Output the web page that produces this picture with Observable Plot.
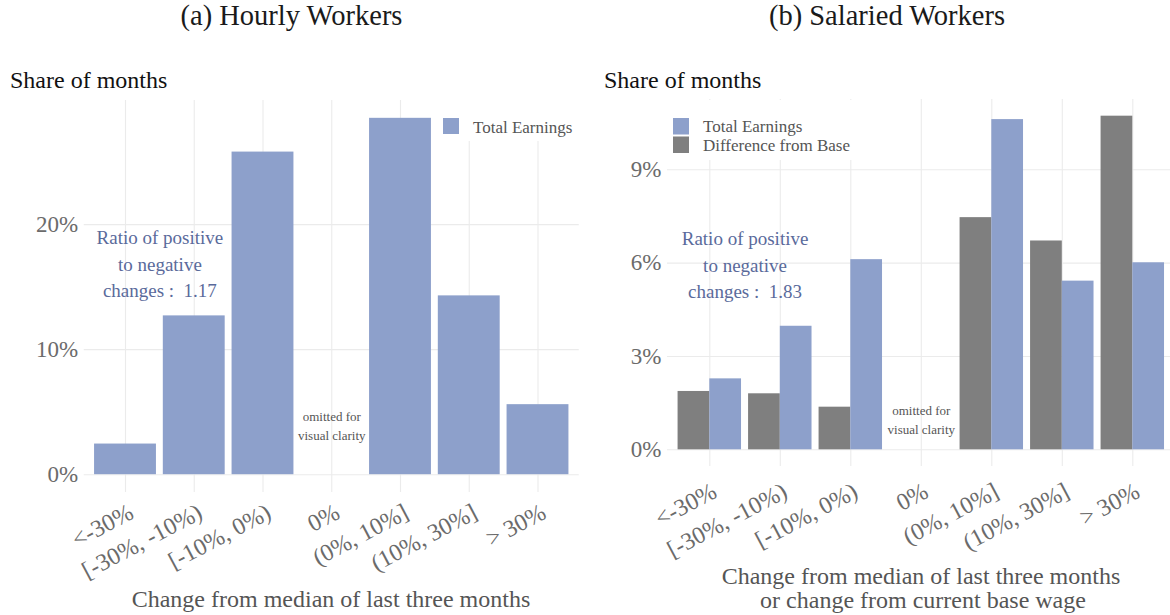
<!DOCTYPE html>
<html><head><meta charset="utf-8">
<script src="https://cdn.jsdelivr.net/npm/d3@7"></script>
<script src="https://cdn.jsdelivr.net/npm/@observablehq/plot@0.6"></script>
<style>
html,body{margin:0;padding:0;background:#fff;overflow:hidden}
#root{position:relative;width:1170px;height:615px;overflow:hidden;font-family:"Liberation Serif","DejaVu Serif",serif}
#root > svg{position:absolute;top:0}
</style></head><body><div id="root"></div>
<script>
// ---------- data ----------
const categories = ["<-30%", "[-30%, -10%)", "[-10%, 0%)", "0%", "(0%, 10%]", "(10%, 30%]", "> 30%"];
const hourlyTotal   = [0.0245, 0.127, 0.258, null, 0.285, 0.143, 0.056];
const salariedTotal = [0.0228, 0.0397, 0.0611, null, 0.1061, 0.0542, 0.0601];
const salariedBase  = [0.01875, 0.0180, 0.0137, null, 0.0746, 0.0671, 0.1072];
const hourlyTicks = [0, 0.1, 0.2];
const salariedTicks = [0, 0.03, 0.06, 0.09];
const seriesNames = ["Total Earnings", "Difference from Base"];
const ratioHourly = "1.17", ratioSalaried = "1.83";
const titles = ["(a) Hourly Workers", "(b) Salaried Workers"];
const yTitle = "Share of months";
const xTitleLeft = ["Change from median of last three months"];
const xTitleRight = ["Change from median of last three months", "or change from current base wage"];
const omittedNote = "omitted for\nvisual clarity";

// ---------- style ----------
const FONT = '"Liberation Serif","DejaVu Serif",serif';
const BLUE = "#8DA0CB", GRAY = "#7F7F7F", GRID = "#EBEBEB", TICK = "#6b6b6b";
const seriesColors = [BLUE, GRAY];

const rows = (vals) => categories.map((c, i) => ({cat: c, value: vals[i]})).filter(d => d.value != null);
const pct = d3.format(".0%");
const root = document.getElementById("root");

function panel({left, width, mTop, mBottom, mLeft, mRight, yDomain, ticks, bars, ratio, ratioY, omitY, labDx, labDy}) {
  const plotW = width - mLeft - mRight;
  const step = plotW / (categories.length - 0.1 + 0.3);
  const bw = step * 0.9;
  const marks = [
    Plot.gridX({stroke: GRID, strokeOpacity: 1, strokeWidth: 1.1}),
    Plot.gridY(ticks, {stroke: GRID, strokeOpacity: 1, strokeWidth: 1.1}),
    ...bars(bw),
    Plot.axisY(ticks, {tickSize: 0, tickPadding: 6, tickFormat: pct, fontSize: 23, fill: TICK, label: null}),
    Plot.text(categories, {x: d => d, text: d => d, frameAnchor: "bottom", dx: labDx, dy: labDy, rotate: -28,
      textAnchor: "end", lineAnchor: "middle", fontSize: 24, fill: TICK}),
    Plot.text([{cat: categories[1], y: ratioY, t: "Ratio of positive\nto negative\nchanges : \u00a0" + ratio}],
      {x: "cat", y: "y", text: "t", dx: -step / 2, fontSize: 19, lineHeight: 1.4, fill: "#5a6a9b", lineAnchor: "middle"}),
    Plot.text([{cat: categories[3], y: omitY, t: omittedNote}],
      {x: "cat", y: "y", text: "t", fontSize: 13, lineHeight: 1.45, fill: "#555", lineAnchor: "middle"})
  ];
  const svg = Plot.plot({
    width, height: 615,
    marginTop: mTop, marginBottom: mBottom, marginLeft: mLeft, marginRight: mRight,
    style: {fontFamily: FONT, background: "transparent", overflow: "visible"},
    x: {domain: categories, paddingInner: 0.1, paddingOuter: 0.15, round: false, axis: null},
    y: {domain: yDomain},
    marks
  });
  svg.style.left = left + "px";
  root.appendChild(svg);
}

// (a) Hourly
panel({
  left: 0, width: 585, mTop: 100, mBottom: 123, mLeft: 83.75, mRight: 6.25,
  yDomain: [-0.01425, 0.29925], ticks: hourlyTicks, ratio: ratioHourly, ratioY: 0.17, omitY: 0.04,
  labDx: 6, labDy: 18,
  bars: () => [Plot.barY(rows(hourlyTotal), {x: "cat", y: "value", fill: BLUE})]
});

// (b) Salaried
panel({
  left: 585, width: 590, mTop: 99, mBottom: 149, mLeft: 82, mRight: 0.4,
  yDomain: [-0.00536, 0.11256], ticks: salariedTicks, ratio: ratioSalaried, ratioY: 0.06, omitY: 0.0102,
  labDx: 5, labDy: 23,
  bars: (bw) => [
    Plot.barY(rows(salariedBase), {x: "cat", y: "value", fill: GRAY, insetRight: bw / 2}),
    Plot.barY(rows(salariedTotal), {x: "cat", y: "value", fill: BLUE, insetLeft: bw / 2})
  ]
});

// ---------- overlay: titles, axis titles, legends ----------
const ov = d3.select(root).append("svg").attr("width", 1170).attr("height", 615)
  .style("left", "0px").style("font-family", FONT);
const txt = (x, y, s, size, fill, anchor = "start") =>
  ov.append("text").attr("x", x).attr("y", y).attr("font-size", size).attr("fill", fill)
    .attr("text-anchor", anchor).text(s);

txt(291.5, 25, titles[0], 28.5, "#1a1a1a", "middle");
txt(887, 25, titles[1], 28.5, "#1a1a1a", "middle");
txt(10, 88, yTitle, 24, "#111");
txt(604, 88, yTitle, 24, "#111");
txt(331, 607, xTitleLeft[0], 24, "#555", "middle");
txt(921, 584, xTitleRight[0], 24, "#555", "middle");
txt(923, 608, xTitleRight[1], 24, "#555", "middle");

// left legend
ov.append("rect").attr("x", 435).attr("y", 100).attr("width", 145).attr("height", 41).attr("fill", "#fff");
ov.append("rect").attr("x", 443).attr("y", 118).attr("width", 16).attr("height", 16).attr("fill", seriesColors[0]);
txt(473, 132.5, seriesNames[0], 17, "#555");

// right legend
ov.append("rect").attr("x", 665).attr("y", 100).attr("width", 200).attr("height", 60).attr("fill", "#fff");
seriesNames.forEach((n, i) => {
  ov.append("rect").attr("x", 673).attr("y", 118 + i * 18.5).attr("width", 16).attr("height", 16.5).attr("fill", seriesColors[i]);
  txt(703, 132 + i * 18.5, n, 17, "#555");
});
</script></body></html>
